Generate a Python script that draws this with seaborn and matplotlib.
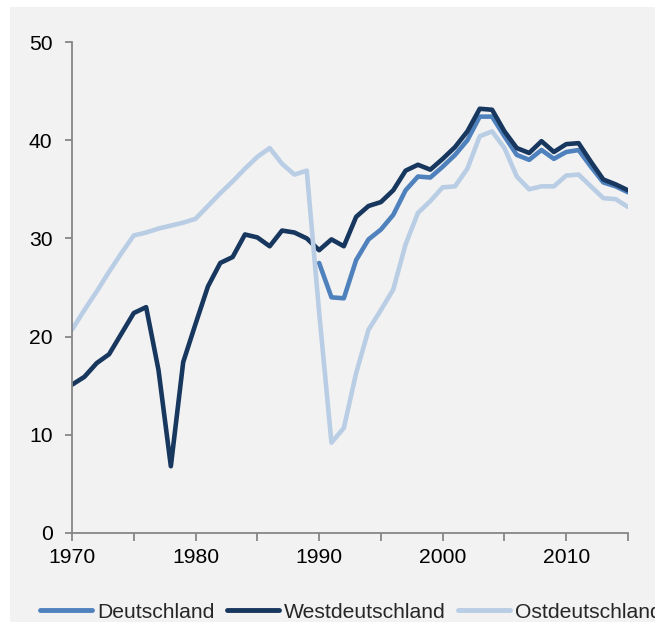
import numpy as np
import pandas as pd
import matplotlib
matplotlib.use("Agg")
import matplotlib.pyplot as plt
from matplotlib.patches import Rectangle
from matplotlib.ticker import MultipleLocator
import seaborn as sns

years = list(range(1970, 2016))

# values
deutschland = [np.nan] * 20 + [
    27.5, 24.0, 23.9, 27.8, 29.9, 30.9, 32.4, 34.9, 36.3, 36.2,
    37.3, 38.5, 40.0, 42.4, 42.4, 40.4, 38.5, 38.0, 39.0, 38.1,
    38.8, 39.0, 37.3, 35.7, 35.3, 34.7]
westdeutschland = [
    15.1, 15.9, 17.3, 18.2, 20.3, 22.4, 23.0, 16.6, 6.8, 17.4,
    21.3, 25.1, 27.5, 28.1, 30.4, 30.1, 29.2, 30.8, 30.6, 30.0,
    28.8, 29.9, 29.2, 32.2, 33.3, 33.7, 34.9, 36.9, 37.5, 37.0,
    38.1, 39.3, 40.9, 43.2, 43.1, 40.9, 39.2, 38.7, 39.9, 38.8,
    39.6, 39.7, 37.8, 36.0, 35.5, 34.9]
ostdeutschland = [
    20.7, 22.7, 24.6, 26.6, 28.5, 30.3, 30.6, 31.0, 31.3, 31.6,
    32.0, 33.3, 34.6, 35.8, 37.1, 38.3, 39.2, 37.6, 36.5, 36.9,
    22.5, 9.2, 10.7, 16.3, 20.7, 22.7, 24.8, 29.4, 32.6, 33.8,
    35.2, 35.3, 37.1, 40.4, 40.9, 39.2, 36.3, 35.0, 35.3, 35.3,
    36.4, 36.5, 35.3, 34.1, 34.0, 33.2]

series_names = ["Deutschland", "Westdeutschland", "Ostdeutschland"]
palette = ["#4f81bd", "#17375e", "#b9cde5"]

df = pd.DataFrame({"Jahr": years,
                   "Deutschland": deutschland,
                   "Westdeutschland": westdeutschland,
                   "Ostdeutschland": ostdeutschland})
long_df = df.melt(id_vars="Jahr", var_name="Reihe", value_name="Wert").dropna()

sns.set_style("white", {"xtick.bottom": True, "ytick.left": True})
plt.rcParams["font.family"] = ["Liberation Sans", "DejaVu Sans"]
plt.rcParams["xtick.major.size"] = 6
plt.rcParams["xtick.minor.size"] = 6
plt.rcParams["ytick.major.size"] = 5

fig = plt.figure(figsize=(6.68, 6.22), dpi=100)
fig.patch.set_facecolor("white")
bg = "#f2f2f2"
fig.patches.append(Rectangle((10 / 668, 0), 645 / 668, 1 - 7 / 622,
                             transform=fig.transFigure, facecolor=bg,
                             edgecolor="none", zorder=-10))

ax = fig.add_axes([72 / 668, 89 / 622, 556 / 668, 491 / 622])
ax.set_facecolor(bg)

sns.lineplot(data=long_df, x="Jahr", y="Wert", hue="Reihe",
             hue_order=series_names, palette=palette, linewidth=3.3,
             ax=ax, legend=False, estimator=None)

ax.set_xlim(1970, 2015)
ax.set_ylim(0, 50)
ax.set_xlabel("")
ax.set_ylabel("")
ax.set_yticks([0, 10, 20, 30, 40, 50])
ax.xaxis.set_major_locator(MultipleLocator(10))
ax.xaxis.set_minor_locator(MultipleLocator(5))

for side in ["top", "right"]:
    ax.spines[side].set_visible(False)
for side in ["left", "bottom"]:
    ax.spines[side].set_color("#868686")
    ax.spines[side].set_linewidth(1.3)

ax.tick_params(axis="both", which="both", direction="out", color="#868686",
               width=1.3, labelsize=15.2, labelcolor="black")
ax.tick_params(axis="y", which="both", left=True, length=5, pad=9)
ax.tick_params(axis="x", which="both", bottom=True, length=6, pad=5)

handles = [plt.Line2D([], [], color=c, linewidth=3.5) for c in palette]
fig.legend(handles, series_names, loc="center left",
           bbox_to_anchor=(40 / 668, 10 / 622), ncol=3, frameon=False,
           fontsize=15.2, handlelength=2.45, handletextpad=0.25,
           columnspacing=0.6, borderpad=0, borderaxespad=0)

# the reference crops the last legend entry at its right border
fig.patches.append(Rectangle((655 / 668, 0), 13 / 668, 1,
                             transform=fig.transFigure, facecolor="white",
                             edgecolor="none", zorder=20))

fig.savefig("out.png", dpi=100, facecolor="white")
